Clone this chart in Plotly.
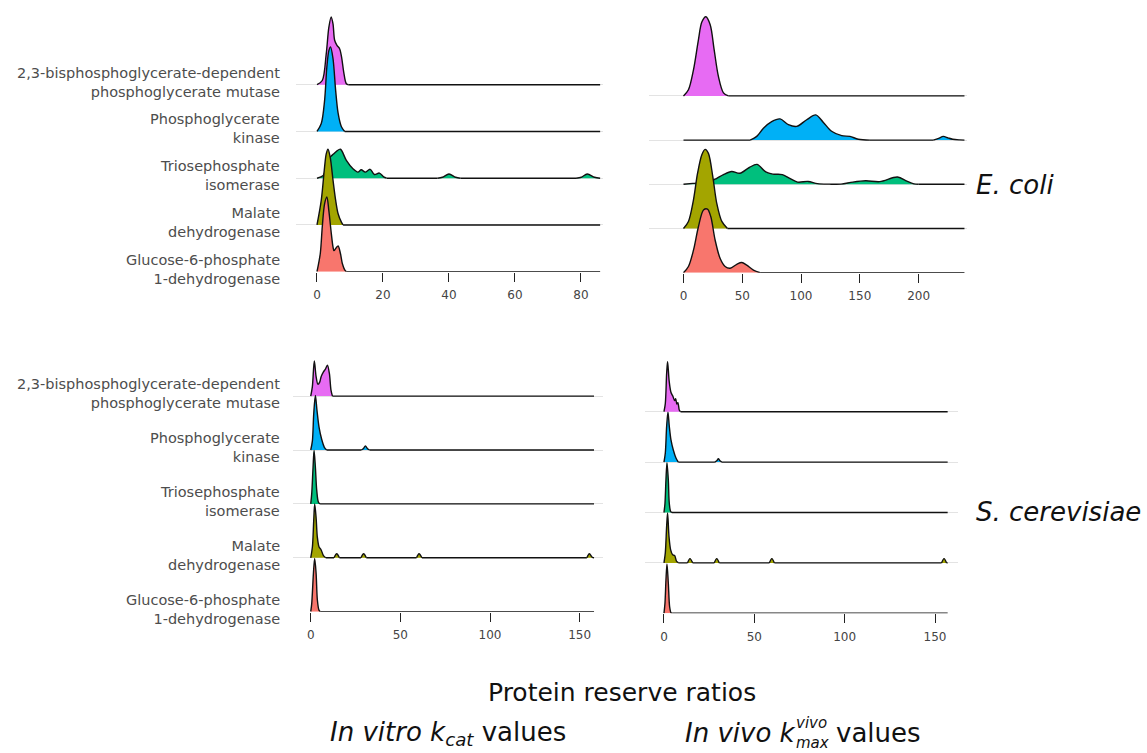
import plotly.graph_objects as go

W, H = 1147, 753
FONT = "DejaVu Sans"

# ---------------- categories ----------------
label_line1 = ["Glucose-6-phosphate", "Malate", "Triosephosphate",
               "Phosphoglycerate", "2,3-bisphosphoglycerate-dependent"]
label_line2 = ["1-dehydrogenase", "dehydrogenase", "isomerase",
               "kinase", "phosphoglycerate mutase"]
colors = ["#F8766D", "#A3A500", "#00BF7D", "#00B0F6", "#E76BF3"]

# ---------------- ridge profiles ----------------
# x = protein reserve ratio, h = ridge height in units of row spacing
# E. coli, in vitro kcat
ecv_g6pd_x = [0, 1.0, 1.6, 2.3, 3.0, 3.6, 4.35, 4.85, 5.15, 5.8, 6.4, 7.1, 7.7, 8.4, 8.9, 85.8]
ecv_g6pd_h = [0, 0.39, 0.96, 1.45, 1.6, 1.3, 0.81, 0.53, 0.45, 0.51, 0.55, 0.39, 0.17, 0.04, 0, 0]
ecv_mdh_x = [0, 1.3, 2.3, 2.8, 3.33, 4.0, 4.85, 5.65, 6.4, 7.4, 7.9, 85.8]
ecv_mdh_h = [0, 0.53, 1.24, 1.52, 1.62, 1.45, 0.96, 0.53, 0.24, 0.06, 0, 0]
ecv_tpi_x = [0, 1.9, 3.0, 4.0, 4.9, 6.0, 7.1, 8.9, 10.9, 12.4, 13.4, 14.6, 16.1, 17.4, 18.9,
             20.2, 21.1, 36.5, 38, 40, 42, 43.5, 78.5, 80.1, 81.9, 84.1, 85.8]
ecv_tpi_h = [0, 0.06, 0.3, 0.45, 0.51, 0.58, 0.62, 0.38, 0.2, 0.13, 0.18, 0.13, 0.19, 0.08, 0.11,
             0.03, 0, 0, 0.02, 0.09, 0.02, 0, 0, 0.02, 0.09, 0.02, 0]
ecv_pgk_x = [0, 1.3, 2.3, 3.0, 3.6, 4.1, 4.85, 5.65, 6.4, 7.4, 8.4, 85.8]
ecv_pgk_h = [0, 0.17, 0.66, 1.39, 1.73, 1.81, 1.56, 0.88, 0.39, 0.1, 0, 0]
ecv_pgm_x = [0, 1.6, 2.8, 3.6, 4.3, 4.85, 5.35, 6.05, 6.85, 7.45, 8.1, 8.9, 9.6, 85.8]
ecv_pgm_h = [0, 0.09, 0.66, 1.23, 1.45, 1.3, 0.95, 0.84, 0.77, 0.59, 0.27, 0.02, 0, 0]

# E. coli, in vivo kmax
eci_g6pd_x = [0, 4.2, 8.5, 12.7, 17, 20.4, 23.2, 26.9, 31.2, 35.4, 39.7, 45.3, 49.6, 53.8, 59.5, 65.2, 239]
eci_g6pd_h = [0, 0.14, 0.51, 1.04, 1.42, 1.44, 1.27, 0.74, 0.32, 0.14, 0.1, 0.19, 0.23, 0.17, 0.06, 0, 0]
eci_mdh_x = [0, 4.2, 8.5, 11.9, 15.6, 18.4, 21.2, 24.9, 28.3, 32.6, 37.4, 239]
eci_mdh_h = [0, 0.16, 0.65, 1.24, 1.67, 1.79, 1.7, 1.18, 0.57, 0.16, 0, 0]
eci_tpi_x = [0, 8, 17, 24, 28, 34, 41, 48, 56, 62.5, 70, 76, 84, 90, 97, 106, 114, 124, 134,
             144, 155, 167, 182, 190, 196, 200, 239]
eci_tpi_h = [0, 0.02, 0.04, 0.08, 0.13, 0.22, 0.29, 0.25, 0.38, 0.45, 0.28, 0.23, 0.22, 0.14, 0.05,
             0.065, 0.015, 0.003, 0.003, 0.05, 0.08, 0.06, 0.165, 0.07, 0.01, 0, 0]
eci_pgk_x = [0, 56.7, 62.3, 68, 75, 82.2, 89.2, 96.3, 104.8, 112.5, 119, 126, 134.6, 141.6, 148.7,
             158.6, 212.5, 217, 221, 225, 229, 235, 239]
eci_pgk_h = [0, 0, 0.084, 0.27, 0.42, 0.48, 0.35, 0.31, 0.46, 0.57, 0.4, 0.2, 0.1, 0.084, 0.02,
             0, 0, 0.04, 0.084, 0.05, 0.02, 0.005, 0]
eci_pgm_x = [0, 4.2, 8.5, 12.7, 15.6, 19, 22.7, 26.1, 29.7, 34, 38.2, 239]
eci_pgm_h = [0, 0.14, 0.59, 1.27, 1.67, 1.79, 1.61, 1.04, 0.44, 0.07, 0, 0]

# S. cerevisiae, in vitro kcat
scv_g6pd_x = [0, 0.56, 1.5, 2.2, 3.0, 3.7, 4.6, 5.4, 158]
scv_g6pd_h = [0, 0.15, 0.71, 0.99, 0.71, 0.22, 0.03, 0, 0]
scv_mdh_x = [0, 0.93, 1.67, 2.2, 2.97, 3.7, 4.65, 5.75, 7.1, 8.4, 13, 14.5, 16, 28, 29.5, 31,
             59, 60.4, 62, 154, 155.4, 157, 158]
scv_mdh_h = [0, 0.2, 0.69, 1.0, 0.755, 0.38, 0.2, 0.15, 0.04, 0, 0, 0.075, 0, 0, 0.075, 0,
             0, 0.075, 0, 0, 0.075, 0.01, 0]
scv_tpi_x = [0, 0.56, 1.3, 1.86, 2.6, 3.35, 4.3, 5.2, 158]
scv_tpi_h = [0, 0.19, 0.68, 0.99, 0.68, 0.25, 0.03, 0, 0]
scv_pgk_x = [0, 0.93, 1.67, 2.6, 3.5, 4.65, 6.1, 7.6, 8.9, 28.2, 29.4, 30.5, 31.6, 32.8, 158]
scv_pgk_h = [0, 0.17, 0.67, 1.01, 0.73, 0.42, 0.2, 0.05, 0, 0, 0.03, 0.075, 0.03, 0, 0]
scv_pgm_x = [0, 0.9, 2.0, 3.0, 4.0, 5.0, 5.8, 7.1, 8.2, 9.3, 10.4, 11.3, 12.1, 158]
scv_pgm_h = [0, 0.17, 0.65, 0.36, 0.22, 0.26, 0.36, 0.45, 0.5, 0.575, 0.42, 0.11, 0, 0]

# S. cerevisiae, in vivo kmax
sci_g6pd_x = [0, 0.55, 1.1, 1.66, 2.4, 3.14, 3.9, 4.6, 157]
sci_g6pd_h = [0, 0.2, 0.66, 0.98, 0.6, 0.13, 0.01, 0, 0]
sci_mdh_x = [0, 0.74, 1.48, 2.0, 2.77, 3.7, 4.8, 5.9, 7.0, 8.1, 13, 14.4, 15.9, 27.8, 29.2, 30.6,
             58.3, 59.7, 61.1, 153.6, 155, 156.4, 157]
sci_mdh_h = [0, 0.2, 0.73, 0.99, 0.53, 0.26, 0.16, 0.145, 0.03, 0, 0, 0.085, 0, 0, 0.085, 0,
             0, 0.085, 0, 0, 0.085, 0, 0]
sci_tpi_x = [0, 0.55, 1.1, 1.66, 2.4, 2.95, 3.7, 4.4, 157]
sci_tpi_h = [0, 0.18, 0.65, 0.99, 0.65, 0.18, 0.02, 0, 0]
sci_pgk_x = [0, 0.74, 1.48, 2.2, 2.95, 3.87, 5.17, 6.64, 7.93, 28.2, 29.2, 30.1, 31.0, 32, 157]
sci_pgk_h = [0, 0.18, 0.71, 0.99, 0.71, 0.44, 0.24, 0.08, 0, 0, 0.025, 0.065, 0.025, 0, 0]
sci_pgm_x = [0, 0.74, 1.48, 2.0, 2.9, 3.9, 5.0, 5.9, 6.5, 7.1, 7.7, 8.5, 9.2, 157]
sci_pgm_h = [0, 0.16, 0.76, 0.99, 0.6, 0.38, 0.3, 0.22, 0.26, 0.15, 0.18, 0.03, 0, 0]

# tick labels
ticks_ecv = [0, 20, 40, 60, 80]
ticks_eci = [0, 50, 100, 150, 200]
ticks_sc = [0, 50, 100, 150]

# ---------------- layout of the four panels (pixel geometry) ----------------
panels = [
    dict(series=[(ecv_g6pd_x, ecv_g6pd_h), (ecv_mdh_x, ecv_mdh_h), (ecv_tpi_x, ecv_tpi_h),
                 (ecv_pgk_x, ecv_pgk_h), (ecv_pgm_x, ecv_pgm_h)],
         xr=[-6.3, 86.7], px=[296.2, 603.1], yr=[1, 6.6], base=271.7, step=46.75,
         ticks=ticks_ecv, labels=True),
    dict(series=[(eci_g6pd_x, eci_g6pd_h), (eci_mdh_x, eci_mdh_h), (eci_tpi_x, eci_tpi_h),
                 (eci_pgk_x, eci_pgk_h), (eci_pgm_x, eci_pgm_h)],
         xr=[-29, 241], px=[649.4, 966.8], yr=[1, 6.85], base=272.7, step=44.2,
         ticks=ticks_eci, labels=False),
    dict(series=[(scv_g6pd_x, scv_g6pd_h), (scv_mdh_x, scv_mdh_h), (scv_tpi_x, scv_tpi_h),
                 (scv_pgk_x, scv_pgk_h), (scv_pgm_x, scv_pgm_h)],
         xr=[-10, 163], px=[292.8, 603.0], yr=[1, 5.8], base=611.7, step=53.9,
         ticks=ticks_sc, labels=True),
    dict(series=[(sci_g6pd_x, sci_g6pd_h), (sci_mdh_x, sci_mdh_h), (sci_tpi_x, sci_tpi_h),
                 (sci_pgk_x, sci_pgk_h), (sci_pgm_x, sci_pgm_h)],
         xr=[-10.5, 162.5], px=[645.0, 957.6], yr=[1, 6.1], base=613.3, step=50.4,
         ticks=ticks_sc, labels=False),
]


def split_runs(hs):
    """Index ranges (start, end) of non-flat parts, each padded by its zero feet."""
    out, j, n = [], 0, len(hs)
    while j < n:
        if hs[j] > 0:
            a = j
            while j < n and hs[j] > 0:
                j += 1
            out.append((max(a - 1, 0), min(j, n - 1)))
        else:
            j += 1
    return out


LINE = "#111111"
fig = go.Figure()
annotations = []
layout = {}

for k, p in enumerate(panels):
    n = "" if k == 0 else str(k + 1)
    xa, ya = "x" + n, "y" + n
    top_px = p["base"] - (p["yr"][1] - p["yr"][0]) * p["step"]
    xdom = [p["px"][0] / W, p["px"][1] / W]
    ydom = [1 - p["base"] / H, 1 - top_px / H]
    layout["xaxis" + n] = dict(
        domain=xdom, range=p["xr"], anchor=ya, showgrid=False, zeroline=False,
        showline=False, tickmode="array", tickvals=p["ticks"],
        ticktext=[str(t) for t in p["ticks"]], ticks="outside", ticklen=9,
        tickwidth=1.2, tickcolor="#222222", ticklabelstandoff=3,
        tickfont=dict(family=FONT, size=12, color="#444444"), fixedrange=True)
    layout["yaxis" + n] = dict(
        domain=ydom, range=p["yr"], anchor=xa, showgrid=True, gridcolor="#e3e3e3",
        gridwidth=1, zeroline=False, showline=False, tickmode="array",
        tickvals=[1, 2, 3, 4, 5], showticklabels=False, ticks="", fixedrange=True)

    # draw top row first so lower ridges overlap upper ones
    for i in reversed(range(5)):
        xs, hs = p["series"][i]
        base = i + 1
        runs = split_runs(hs)
        # flat parts of the outline (straight baseline segments)
        fx, fy = [], []
        prev = 0
        for a, b in runs:
            if a > prev:
                fx += [xs[prev], xs[a], None]
                fy += [base, base, None]
            prev = b
        if prev < len(xs) - 1:
            fx += [xs[prev], xs[-1], None]
            fy += [base, base, None]
        fig.add_trace(go.Scatter(
            x=fx, y=fy, mode="lines", line=dict(color=LINE, width=1.4),
            hoverinfo="skip", showlegend=False, xaxis=xa, yaxis=ya))
        # filled smooth parts
        for a, b in runs:
            fig.add_trace(go.Scatter(
                x=[xs[a], xs[b]], y=[base, base], mode="lines",
                line=dict(width=0, color="rgba(0,0,0,0)"), hoverinfo="skip",
                showlegend=False, xaxis=xa, yaxis=ya))
            fig.add_trace(go.Scatter(
                x=xs[a:b + 1], y=[base + h for h in hs[a:b + 1]], mode="lines",
                fill="tonexty", fillcolor=colors[i],
                line=dict(color=LINE, width=1.4, shape="spline", smoothing=0.9),
                hoverinfo="skip", showlegend=False, xaxis=xa, yaxis=ya))

    if p["labels"]:
        for i in range(5):
            annotations.append(dict(
                text=label_line1[i] + "<br>" + label_line2[i],
                xref="paper", x=282 / W, xanchor="right", align="right",
                yref=ya, y=i + 1, yanchor="middle", yshift=2.5,
                showarrow=False,
                font=dict(family=FONT, size=14.5, color="#4d4d4d")))


def paper_note(text, x, y, size, xanchor="left", align="left"):
    return dict(text=text, xref="paper", yref="paper", x=x / W, y=1 - y / H,
                xanchor=xanchor, yanchor="middle", align=align, showarrow=False,
                borderpad=0, font=dict(family=FONT, size=size, color="#111111"))


# species labels
annotations.append(paper_note("<i>E. coli</i>", 975, 184.5, 26))
annotations.append(paper_note("<i>S. cerevisiae</i>", 975, 512, 26))
# axis title
annotations.append(paper_note("Protein reserve ratios", 622, 692, 25, xanchor="center"))
# column captions
annotations.append(paper_note("<i>In vitro k<sub>cat</sub></i> values", 448, 733, 26,
                              xanchor="center"))
k_end = 797
annotations.append(paper_note("<i>In vivo k</i>", k_end, 733, 26, xanchor="right"))
annotations.append(paper_note("<i>vivo<br>max</i>", k_end - 2, 732.5, 15))
annotations.append(paper_note("values", k_end + 38, 733, 26))

fig.update_layout(
    width=W, height=H, margin=dict(l=0, r=0, t=0, b=0),
    paper_bgcolor="white", plot_bgcolor="white", showlegend=False,
    annotations=annotations, **layout)

fig.write_html("out.html")
